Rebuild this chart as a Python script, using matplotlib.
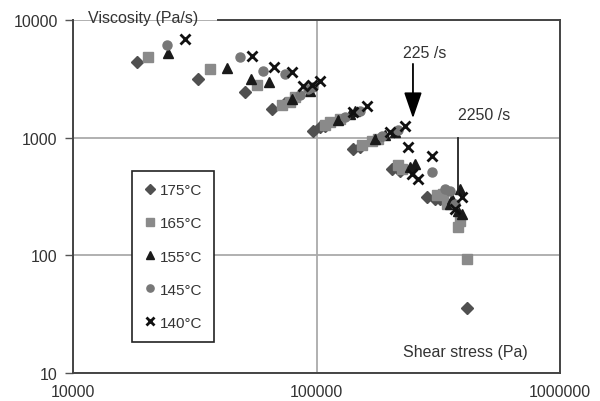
import matplotlib
matplotlib.use("Agg")
import matplotlib.pyplot as plt

plt.rcParams['font.family'] = ['Liberation Sans', 'DejaVu Sans']

# shear stress (Pa) / viscosity (Pa s) per melt temperature
t175_x = [18310, 32610, 50860, 65650, 74240, 96740, 103400, 108400, 141200, 150900, 204300, 220300, 284300, 306700, 321600, 415000]
t175_y = [4390, 3150, 2440, 1750, 1968, 1140, 1230, 1255, 800, 832, 540, 520, 313, 301, 301, 36]

t165_x = [20320, 36530, 56960, 72170, 77840, 81600, 108400, 113600, 124900, 153800, 169000, 178900, 216100, 224400,
          312600, 330700, 343500, 381100, 388400, 415000]
t165_y = [4840, 3830, 2800, 1890, 2010, 2213, 1280, 1360, 1439, 865, 936, 973, 585, 541,
          325, 332, 273, 174, 196, 93]

t155_x = [24550, 42890, 53830, 63820, 79330, 94040, 122600, 137500, 143900, 173900, 191100, 210100, 242100, 253900,
          360100, 353400, 388400, 381100, 395900]
t155_y = [5230, 3900, 3150, 2970, 2130, 2490, 1410, 1587, 1680, 973, 1050, 1116, 563, 597,
          301, 273, 366, 238, 224]

t145_x = [24320, 48510, 60290, 74240, 85540, 92270, 96740, 130900, 150900, 185800, 216100, 298100, 337100, 353400, 370500]
t145_y = [6120, 4840, 3680, 3470, 2300, 2588, 2690, 1500, 1683, 1030, 1161, 510, 366, 352, 273]

t140_x = [28840, 54340, 66910, 79330, 88000, 95830, 103400, 141200, 161200, 200400, 230900, 237600, 298100, 261200,
          246700, 395900, 370500]
t140_y = [6880, 4940, 3980, 3610, 2740, 2799, 3030, 1650, 1860, 1120, 1260, 830, 700, 445,
          490, 313, 247]

labels = ['175°C', '165°C', '155°C', '145°C', '140°C']
xticks = [10000, 100000, 1000000]
yticks = [10, 100, 1000, 10000]

fig = plt.figure(figsize=(6, 4.02), dpi=100)
ax = fig.add_axes([0.1217, 0.0697, 0.8116, 0.878])

ax.plot(t175_x, t175_y, 'D', color='#505050', ms=6, ls='none', label=labels[0])
ax.plot(t165_x, t165_y, 's', color='#8a8a8a', ms=6.5, ls='none', label=labels[1])
ax.plot(t155_x, t155_y, '^', color='#1a1a1a', ms=7.5, ls='none', label=labels[2])
ax.plot(t145_x, t145_y, 'o', color='#777777', ms=6.5, ls='none', label=labels[3])
ax.plot(t140_x, t140_y, 'x', color='#111111', ms=7.5, mew=2, ls='none', label=labels[4])

ax.set_xscale('log')
ax.set_yscale('log')
ax.set_xlim(10000, 1000000)
ax.set_ylim(10, 10000)
ax.set_xticks(xticks)
ax.set_xticklabels([str(v) for v in xticks])
ax.set_yticks(yticks)
ax.set_yticklabels([str(v) for v in yticks])
ax.minorticks_off()
ax.tick_params(axis='y', length=6, width=1, color='#555555', pad=5, labelsize=11.5, labelcolor='#333333')
ax.tick_params(axis='x', length=0, pad=8, labelsize=11.5, labelcolor='#333333')

ax.grid(True, color='#aaaaaa', lw=1.3)
ax.set_axisbelow(True)
for s in ['left', 'bottom', 'right', 'top']:
    ax.spines[s].set_color('#444444')
    ax.spines[s].set_linewidth(1.4)
ax.spines['top'].set_bounds(39400, 1000000)

ax.text(0.031, 1.008, 'Viscosity (Pa/s)', transform=ax.transAxes, fontsize=11.5,
        color='#333333', ha='left', va='center')
ax.text(0.678, 0.062, 'Shear stress (Pa)', transform=ax.transAxes, fontsize=11.5,
        color='#333333', ha='left', va='center')

# shear-rate markers
ax.annotate('', xy=(249000, 1384), xytext=(249000, 4475),
            arrowprops=dict(arrowstyle='-|>,head_length=1.6,head_width=0.55',
                            mutation_scale=10, color='black', lw=1.3))
ax.text(279000, 5335, '225 /s', fontsize=11.5, color='#333333', ha='center', va='center')
ax.plot([381100, 381100], [1000, 330], color='#222222', lw=1.3)
ax.text(381100, 1587, '2250 /s', fontsize=11.5, color='#333333', ha='left', va='center')

leg = ax.legend(loc='upper left', bbox_to_anchor=(0.121, 0.572), borderaxespad=0, fontsize=11,
                frameon=True, fancybox=False, edgecolor='#222222', framealpha=1,
                handlelength=0.8, handletextpad=0.2, labelspacing=1.25,
                borderpad=0.8, markerscale=0.8)
leg.get_frame().set_linewidth(1.2)
for t in leg.get_texts():
    t.set_color('#333333')

fig.savefig('out.png', dpi=100)
